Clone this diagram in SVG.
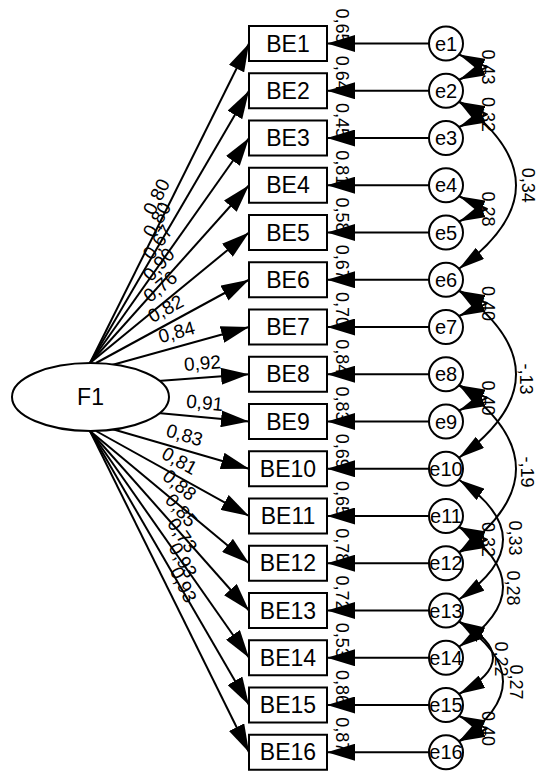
<svg xmlns="http://www.w3.org/2000/svg" width="541" height="771" viewBox="0 0 541 771">
<defs>
<style>
text{font-family:"Liberation Sans",Arial,sans-serif;fill:#000}
.ln{stroke:#000;stroke-width:2;fill:none;stroke-linejoin:round}
.nd{fill:#fff;stroke:#000;stroke-width:2}
.nm{font-size:23px;text-anchor:middle}
.en{font-size:20px;text-anchor:middle}
.ld{font-size:19px;text-anchor:middle}
.r2{font-size:18px;text-anchor:end}
.cv{font-size:18px;text-anchor:middle}
</style>
<marker id="ah" viewBox="0 0 28 17" refX="28" refY="8.5" markerWidth="28" markerHeight="17" markerUnits="userSpaceOnUse" orient="auto"><path d="M0,0L28,8.5L0,17Z"/></marker>
<marker id="ch" viewBox="0 0 26 14" refX="26" refY="7" markerWidth="26" markerHeight="14" markerUnits="userSpaceOnUse" orient="auto-start-reverse"><path d="M0,0L26,7L0,14Z"/></marker>
</defs>
<rect width="541" height="771" fill="#fff"/>
<g id="connectors">
<line class="ln" x1="90" y1="363" x2="249" y2="43.5" marker-end="url(#ah)"/>
<line class="ln" x1="90" y1="363" x2="249" y2="90.75" marker-end="url(#ah)"/>
<line class="ln" x1="90" y1="363" x2="249" y2="138" marker-end="url(#ah)"/>
<line class="ln" x1="90" y1="363" x2="249" y2="185.25" marker-end="url(#ah)"/>
<line class="ln" x1="90" y1="363" x2="249" y2="232.5" marker-end="url(#ah)"/>
<line class="ln" x1="96" y1="363" x2="249" y2="279.75" marker-end="url(#ah)"/>
<line class="ln" x1="112" y1="365" x2="249" y2="327" marker-end="url(#ah)"/>
<line class="ln" x1="158" y1="381" x2="249" y2="374.25" marker-end="url(#ah)"/>
<line class="ln" x1="158" y1="413" x2="249" y2="421.5" marker-end="url(#ah)"/>
<line class="ln" x1="112" y1="429" x2="249" y2="468.75" marker-end="url(#ah)"/>
<line class="ln" x1="96" y1="431" x2="249" y2="516" marker-end="url(#ah)"/>
<line class="ln" x1="90" y1="431" x2="249" y2="563.25" marker-end="url(#ah)"/>
<line class="ln" x1="90" y1="431" x2="249" y2="610.5" marker-end="url(#ah)"/>
<line class="ln" x1="90" y1="431" x2="249" y2="657.75" marker-end="url(#ah)"/>
<line class="ln" x1="90" y1="431" x2="249" y2="705" marker-end="url(#ah)"/>
<line class="ln" x1="90" y1="431" x2="249" y2="752.25" marker-end="url(#ah)"/>
<text class="ld" transform="translate(162.3,199.7) rotate(-63.54)">0,80</text>
<text class="ld" transform="translate(162.6,222.8) rotate(-59.72)">0,80</text>
<text class="ld" transform="translate(163,245.9) rotate(-54.75)">0,67</text>
<text class="ld" transform="translate(163.5,268.8) rotate(-48.19)">0,90</text>
<text class="ld" transform="translate(164.4,291.6) rotate(-39.38)">0,76</text>
<text class="ld" transform="translate(168.7,314.4) rotate(-28.55)">0,82</text>
<text class="ld" transform="translate(178.4,338.3) rotate(-15.5)">0,84</text>
<text class="ld" transform="translate(202.9,369.6) rotate(-4.24)">0,92</text>
<text class="ld" transform="translate(204.2,409.3) rotate(5.34)">0,91</text>
<text class="ld" transform="translate(182.7,441.2) rotate(16.18)">0,83</text>
<text class="ld" transform="translate(176.4,466.5) rotate(29.05)">0,81</text>
<text class="ld" transform="translate(175.4,490) rotate(39.75)">0,88</text>
<text class="ld" transform="translate(176.3,514.5) rotate(48.47)">0,85</text>
<text class="ld" transform="translate(177,539) rotate(54.96)">0,73</text>
<text class="ld" transform="translate(177.3,563.5) rotate(59.88)">0,93</text>
<text class="ld" transform="translate(177.6,587.6) rotate(63.66)">0,93</text>
<line class="ln" x1="429" y1="43.5" x2="327" y2="43.5" marker-end="url(#ah)"/>
<line class="ln" x1="429" y1="90.75" x2="327" y2="90.75" marker-end="url(#ah)"/>
<line class="ln" x1="429" y1="138" x2="327" y2="138" marker-end="url(#ah)"/>
<line class="ln" x1="429" y1="185.25" x2="327" y2="185.25" marker-end="url(#ah)"/>
<line class="ln" x1="429" y1="232.5" x2="327" y2="232.5" marker-end="url(#ah)"/>
<line class="ln" x1="429" y1="279.75" x2="327" y2="279.75" marker-end="url(#ah)"/>
<line class="ln" x1="429" y1="327" x2="327" y2="327" marker-end="url(#ah)"/>
<line class="ln" x1="429" y1="374.25" x2="327" y2="374.25" marker-end="url(#ah)"/>
<line class="ln" x1="429" y1="421.5" x2="327" y2="421.5" marker-end="url(#ah)"/>
<line class="ln" x1="429" y1="468.75" x2="327" y2="468.75" marker-end="url(#ah)"/>
<line class="ln" x1="429" y1="516" x2="327" y2="516" marker-end="url(#ah)"/>
<line class="ln" x1="429" y1="563.25" x2="327" y2="563.25" marker-end="url(#ah)"/>
<line class="ln" x1="429" y1="610.5" x2="327" y2="610.5" marker-end="url(#ah)"/>
<line class="ln" x1="429" y1="657.75" x2="327" y2="657.75" marker-end="url(#ah)"/>
<line class="ln" x1="429" y1="705" x2="327" y2="705" marker-end="url(#ah)"/>
<line class="ln" x1="429" y1="752.25" x2="327" y2="752.25" marker-end="url(#ah)"/>
<path class="ln" d="M459,54.5L487,67.1L459,79.75" marker-start="url(#ch)" marker-end="url(#ch)"/>
<path class="ln" d="M459,101.75L487,114.4L459,127" marker-start="url(#ch)" marker-end="url(#ch)"/>
<path class="ln" d="M459,196.25L487,208.9L459,221.5" marker-start="url(#ch)" marker-end="url(#ch)"/>
<path class="ln" d="M459,290.75L487,303.4L459,316" marker-start="url(#ch)" marker-end="url(#ch)"/>
<path class="ln" d="M459,385.25L487,397.9L459,410.5" marker-start="url(#ch)" marker-end="url(#ch)"/>
<path class="ln" d="M459,527L487,539.6L459,552.25" marker-start="url(#ch)" marker-end="url(#ch)"/>
<path class="ln" d="M459,716L487,728.6L459,741.25" marker-start="url(#ch)" marker-end="url(#ch)"/>
<path class="ln" d="M459,101.75Q573,185.25 459,268.75" marker-start="url(#ch)" marker-end="url(#ch)"/>
<path class="ln" d="M459,290.75Q573,374.25 459,457.75" marker-start="url(#ch)" marker-end="url(#ch)"/>
<path class="ln" d="M459,385.25Q573,468.75 459,552.25" marker-start="url(#ch)" marker-end="url(#ch)"/>
<path class="ln" d="M459,479.75Q547,539.6 459,599.5" marker-start="url(#ch)" marker-end="url(#ch)"/>
<path class="ln" d="M459,527Q547,586.9 459,646.75" marker-start="url(#ch)" marker-end="url(#ch)"/>
<path class="ln" d="M459,621.5Q527,657.75 459,694" marker-start="url(#ch)" marker-end="url(#ch)"/>
<path class="ln" d="M459,621.5Q547,681.4 459,741.25" marker-start="url(#ch)" marker-end="url(#ch)"/>
<text class="cv" transform="translate(482,67.1) rotate(90)">0,43</text>
<text class="cv" transform="translate(482,114.4) rotate(90)">0,32</text>
<text class="cv" transform="translate(482,208.9) rotate(90)">0,28</text>
<text class="cv" transform="translate(482,303.4) rotate(90)">0,40</text>
<text class="cv" transform="translate(482,397.9) rotate(90)">0,40</text>
<text class="cv" transform="translate(482,539.6) rotate(90)">0,32</text>
<text class="cv" transform="translate(482,728.6) rotate(90)">0,40</text>
<text class="cv" transform="translate(522,185.25) rotate(90)">0,34</text>
<text class="cv" transform="translate(520,379) rotate(90)">-,13</text>
<text class="cv" transform="translate(521,472) rotate(90)">-,19</text>
<text class="cv" transform="translate(509,538) rotate(90)">0,33</text>
<text class="cv" transform="translate(507,588) rotate(90)">0,28</text>
<text class="cv" transform="translate(495,659) rotate(90)">0,22</text>
<text class="cv" transform="translate(510,682) rotate(90)">0,27</text>
</g>
<g id="F1"><ellipse class="nd" cx="90.5" cy="397" rx="78.5" ry="34"/><text class="nm" x="90.5" y="405.2">F1</text></g>
<g id="BE1"><rect class="nd" x="249" y="26" width="78" height="35"/><text class="nm" x="288" y="51.7">BE1</text><text class="r2" transform="translate(336,43.5) rotate(90)">0,65</text></g>
<g id="BE2"><rect class="nd" x="249" y="73.25" width="78" height="35"/><text class="nm" x="288" y="98.95">BE2</text><text class="r2" transform="translate(336,90.75) rotate(90)">0,64</text></g>
<g id="BE3"><rect class="nd" x="249" y="120.5" width="78" height="35"/><text class="nm" x="288" y="146.2">BE3</text><text class="r2" transform="translate(336,138) rotate(90)">0,45</text></g>
<g id="BE4"><rect class="nd" x="249" y="167.75" width="78" height="35"/><text class="nm" x="288" y="193.45">BE4</text><text class="r2" transform="translate(336,185.25) rotate(90)">0,81</text></g>
<g id="BE5"><rect class="nd" x="249" y="215" width="78" height="35"/><text class="nm" x="288" y="240.7">BE5</text><text class="r2" transform="translate(336,232.5) rotate(90)">0,58</text></g>
<g id="BE6"><rect class="nd" x="249" y="262.25" width="78" height="35"/><text class="nm" x="288" y="287.95">BE6</text><text class="r2" transform="translate(336,279.75) rotate(90)">0,67</text></g>
<g id="BE7"><rect class="nd" x="249" y="309.5" width="78" height="35"/><text class="nm" x="288" y="335.2">BE7</text><text class="r2" transform="translate(336,327) rotate(90)">0,70</text></g>
<g id="BE8"><rect class="nd" x="249" y="356.75" width="78" height="35"/><text class="nm" x="288" y="382.45">BE8</text><text class="r2" transform="translate(336,374.25) rotate(90)">0,84</text></g>
<g id="BE9"><rect class="nd" x="249" y="404" width="78" height="35"/><text class="nm" x="288" y="429.7">BE9</text><text class="r2" transform="translate(336,421.5) rotate(90)">0,83</text></g>
<g id="BE10"><rect class="nd" x="249" y="451.25" width="78" height="35"/><text class="nm" x="288" y="476.95">BE10</text><text class="r2" transform="translate(336,468.75) rotate(90)">0,69</text></g>
<g id="BE11"><rect class="nd" x="249" y="498.5" width="78" height="35"/><text class="nm" x="288" y="524.2">BE11</text><text class="r2" transform="translate(336,516) rotate(90)">0,65</text></g>
<g id="BE12"><rect class="nd" x="249" y="545.75" width="78" height="35"/><text class="nm" x="288" y="571.45">BE12</text><text class="r2" transform="translate(336,563.25) rotate(90)">0,78</text></g>
<g id="BE13"><rect class="nd" x="249" y="593" width="78" height="35"/><text class="nm" x="288" y="618.7">BE13</text><text class="r2" transform="translate(336,610.5) rotate(90)">0,72</text></g>
<g id="BE14"><rect class="nd" x="249" y="640.25" width="78" height="35"/><text class="nm" x="288" y="665.95">BE14</text><text class="r2" transform="translate(336,657.75) rotate(90)">0,53</text></g>
<g id="BE15"><rect class="nd" x="249" y="687.5" width="78" height="35"/><text class="nm" x="288" y="713.2">BE15</text><text class="r2" transform="translate(336,705) rotate(90)">0,86</text></g>
<g id="BE16"><rect class="nd" x="249" y="734.75" width="78" height="35"/><text class="nm" x="288" y="760.45">BE16</text><text class="r2" transform="translate(336,752.25) rotate(90)">0,87</text></g>
<g id="e1"><circle class="nd" cx="446" cy="43.5" r="17"/><text class="en" x="446" y="50.7">e1</text></g>
<g id="e2"><circle class="nd" cx="446" cy="90.75" r="17"/><text class="en" x="446" y="97.95">e2</text></g>
<g id="e3"><circle class="nd" cx="446" cy="138" r="17"/><text class="en" x="446" y="145.2">e3</text></g>
<g id="e4"><circle class="nd" cx="446" cy="185.25" r="17"/><text class="en" x="446" y="192.45">e4</text></g>
<g id="e5"><circle class="nd" cx="446" cy="232.5" r="17"/><text class="en" x="446" y="239.7">e5</text></g>
<g id="e6"><circle class="nd" cx="446" cy="279.75" r="17"/><text class="en" x="446" y="286.95">e6</text></g>
<g id="e7"><circle class="nd" cx="446" cy="327" r="17"/><text class="en" x="446" y="334.2">e7</text></g>
<g id="e8"><circle class="nd" cx="446" cy="374.25" r="17"/><text class="en" x="446" y="381.45">e8</text></g>
<g id="e9"><circle class="nd" cx="446" cy="421.5" r="17"/><text class="en" x="446" y="428.7">e9</text></g>
<g id="e10"><circle class="nd" cx="446" cy="468.75" r="17"/><text class="en" x="446" y="475.95">e10</text></g>
<g id="e11"><circle class="nd" cx="446" cy="516" r="17"/><text class="en" x="446" y="523.2">e11</text></g>
<g id="e12"><circle class="nd" cx="446" cy="563.25" r="17"/><text class="en" x="446" y="570.45">e12</text></g>
<g id="e13"><circle class="nd" cx="446" cy="610.5" r="17"/><text class="en" x="446" y="617.7">e13</text></g>
<g id="e14"><circle class="nd" cx="446" cy="657.75" r="17"/><text class="en" x="446" y="664.95">e14</text></g>
<g id="e15"><circle class="nd" cx="446" cy="705" r="17"/><text class="en" x="446" y="712.2">e15</text></g>
<g id="e16"><circle class="nd" cx="446" cy="752.25" r="17"/><text class="en" x="446" y="759.45">e16</text></g>
</svg>
